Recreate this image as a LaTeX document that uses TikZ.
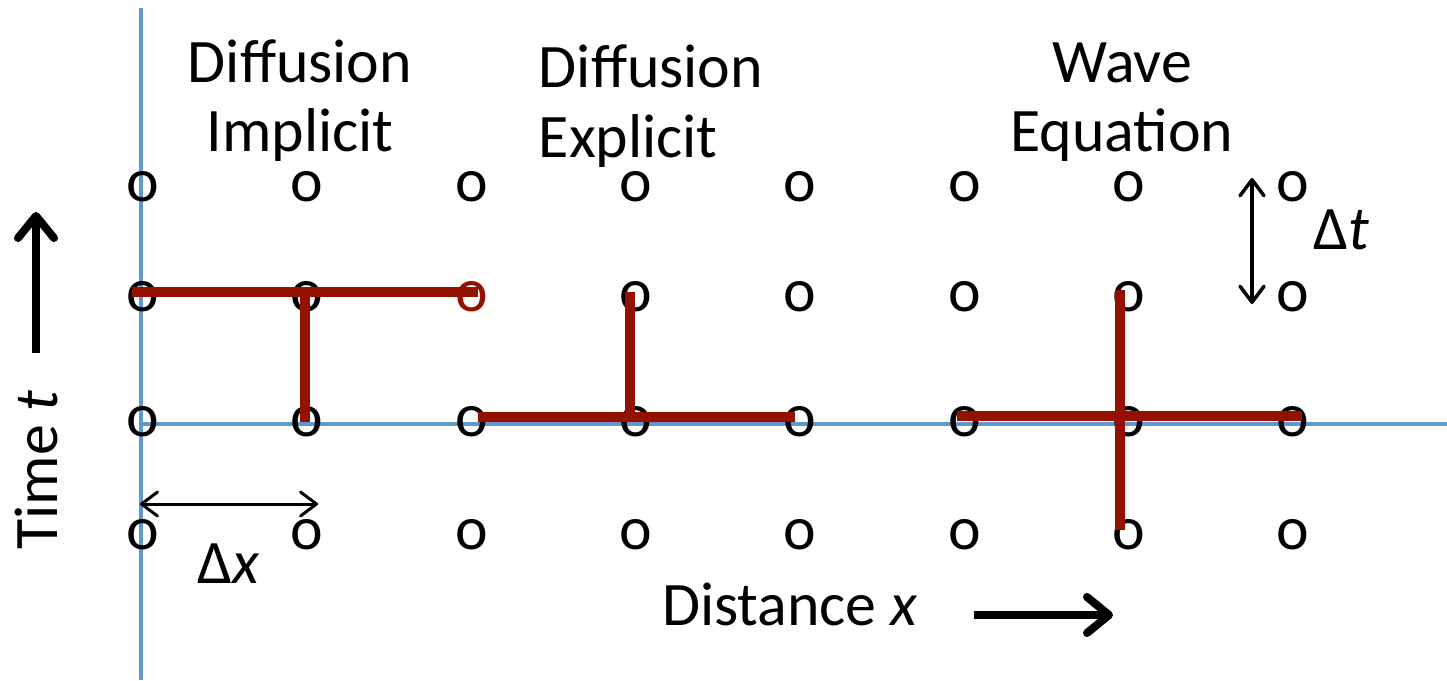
\documentclass[tikz,border=0pt]{standalone}
\usepackage{fontspec}
\setmainfont{Carlito}
\usetikzlibrary{arrows.meta}
\definecolor{axisblue}{RGB}{98,151,206}
\definecolor{stencil}{RGB}{148,17,0}
\tikzset{
  meshpt/.style={inner sep=0pt},
  headline/.style={align=center, anchor=base, inner sep=0pt},
  axisline/.style={draw=axisblue, line width=0.4mm},
  stencilline/.style={draw=stencil, line width=1mm},
  bigarr/.style={-{Straight Barb[length=2.2mm,width=3.6mm,round]}, line width=0.8mm},
  steparr/.style={{Straight Barb[length=1.6mm,width=2.4mm,round]}-{Straight Barb[length=1.6mm,width=2.4mm,round]}, line width=0.35mm},
  lab/.style={anchor=base, inner sep=0pt}
}

\begin{document}
\begin{tikzpicture}[x=0.1mm,y=0.1mm, font=\fontsize{17.6}{19.9}\selectfont]
\useasboundingbox (0,0) rectangle (1447,680);

% axes
\coordinate (ttop) at (141,672);
\coordinate (tbot) at (141,0);
\coordinate (xleft) at (141,256);
\coordinate (xright) at (1447,256);
\draw[axisline] (tbot) -- (ttop);
\draw[axisline] (xleft) -- (xright);

% mesh points
\foreach \r/\yy in {1/493,2/383,3/258,4/145}
  \foreach \c in {1,...,8}{
    \ifnum\r\c=23 \def\ocol{stencil}\else\def\ocol{black}\fi
    \node[meshpt, text=\ocol] (o\r\c) at ({143+164.3*(\c-1)},\yy) {o};
  }

% stencils
\draw[stencilline] ([shift={(-1.1mm,0.5mm)}]o21.center) -- ([shift={(0.6mm,0.5mm)}]o23.center);
\draw[stencilline] ([shift={(-0.2mm,0.4mm)}]o22.center) -- ([xshift=-0.2mm]o32.center);

\draw[stencilline] ([shift={(0.6mm,0.5mm)}]o33.center) -- ([shift={(-0.5mm,0.5mm)}]o35.center);
\draw[stencilline] ([shift={(-0.6mm,0.5mm)}]o34.center) -- ([shift={(-0.6mm,0.5mm)}]o24.center);

\draw[stencilline] ([shift={(-0.75mm,0.6mm)}]o36.center) -- ([shift={(0.9mm,0.6mm)}]o38.center);
\draw[stencilline] ([shift={(-0.9mm,0.7mm)}]o27.center) -- ([shift={(-0.9mm,0.5mm)}]o47.center);

% titles (base = last line)
\node[headline] (implicit) at (300,528) {Diffusion\\Implicit};
\node[headline, align=left] (explicit) at (651,523) {Diffusion\\Explicit};
\node[headline] (wave) at (1122,528) {Wave\\Equation};

% time
\coordinate (tfoot) at (36,327);
\coordinate (thead) at (36,468);
\draw[bigarr] (tfoot) -- (thead);
\node[lab, rotate=90] (timelab) at (58,210) {Time \textit{t}};

% distance
\node[lab] (distlab) at (790,55) {Distance \textit{x}};
\coordinate (dstart) at (974,65);
\coordinate (dend) at (1113,65);
\draw[bigarr] (dstart) -- (dend);

% steps
\coordinate (dttop) at (1252,502);
\coordinate (dtbot) at (1252,376);
\draw[steparr] (dtbot) -- (dttop);
\node[anchor=base west, inner sep=0pt] (dtlab) at (1313,430) {Δ\textit{t}};

\coordinate (dxleft) at (140,176);
\coordinate (dxright) at (318,176);
\draw[steparr, line width=0.3mm] (dxleft) -- (dxright);
\node[lab] (dxlab) at (229,97) {Δ\textit{x}};
\end{tikzpicture}
\end{document}
